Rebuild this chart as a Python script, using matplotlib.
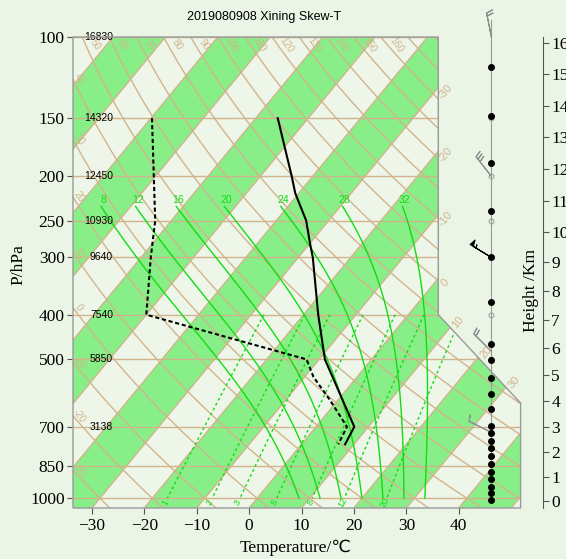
import numpy as np
import matplotlib
matplotlib.use('Agg')
import matplotlib.pyplot as plt
from matplotlib.patches import Polygon

# =========================
# DATA
# =========================
TITLE = '2019080908 Xining Skew-T'

p_ticks = [100, 150, 200, 250, 300, 400, 500, 700, 850, 1000]
t_ticks = [-30, -20, -10, 0, 10, 20, 30, 40]
km_ticks = list(range(0, 17))

# geopotential height of standard levels (m)
hgt_p = [100, 150, 200, 250, 300, 400, 500, 700]
hgt_m = [16830, 14320, 12450, 10930, 9640, 7540, 5850, 3138]

# temperature profile
temp_p = [150, 200, 218, 237, 250, 280, 300, 400, 500, 700, 764]
temp_c = [-55.8, -44.1, -40.7, -36.8, -34.3, -30.0, -27.3, -17.2, -8.9, 7.3, 8.3]

# dew point profile
dewp_p = [150, 200, 250, 300, 400, 500, 546, 613, 700, 764]
dewp_c = [-79.8, -70.4, -63.1, -58.2, -50.0, -12.4, -8.3, -1.5, 5.9, 7.0]

# background line sets
isotherms = list(range(-120, 61, 10))
dry_theta = list(range(-30, 201, 10))
dry_top_lab = list(range(50, 161, 10))
dry_left_lab = list(range(-30, 41, 10))
moist_tw = [8, 12, 16, 20, 24, 28, 32]
mix_r = [1, 2, 3, 5, 8, 12, 20]
iso_edge_lab = [-30, -20, -10, 0]
iso_diag_lab = [10, 20, 30]

# levels shown in the wind / height column
dot_p = [116, 148, 188, 238, 300, 375, 463, 502, 548, 595, 641, 697, 723,
         752, 779, 811, 844, 877, 909, 945, 975, 1009]
ring_p = [150, 200, 250, 400, 500]

# wind barbs (m/s)
wind_p = [100, 200, 300, 480, 720]
wind_u = [1.5, 7.0, 18.0, 6.0, 4.0]
wind_v = [-7.5, -9.0, -11.0, -6.0, -2.0]
wind_col = ['#909090', '#909090', 'black', '#909090', '#909090']

# =========================
# STYLE / GEOMETRY
# =========================
BG = '#EBF5E5'
BAND = '#88EE88'
TAN = '#D2B48C'
LIME = '#11DD11'
SKEW = 72.5
P0 = 1050.0
XMIN, XMAX = -33.6, 51.8
XTOP = 36.1
COL_X = 46.2

serif = ['Liberation Serif', 'DejaVu Serif']
sans = ['Liberation Sans', 'DejaVu Sans']


def skx(t, p):
    return np.asarray(t, dtype=float) + SKEW * np.log10(P0 / np.asarray(p, dtype=float))


def dry_t(theta, p):
    return (theta + 273.15) * (np.asarray(p) / 1000.0) ** 0.286 - 273.15


def es(tk):
    return 6.112 * np.exp(17.67 * (tk - 273.15) / (tk - 29.65))


def dtdp(tk, p):
    rs = 0.622 * es(tk) / (p - es(tk))
    return (287.04 * tk + 2.501e6 * rs) / (p * (1005.7 + 2.501e6 ** 2 * rs * 0.622 / (287.04 * tk * tk)))


def moist_line(tw, p_top):
    ps = np.linspace(1000, p_top, 400)
    tk = tw + 273.15
    ts = [tk]
    for i in range(len(ps) - 1):
        dp = ps[i + 1] - ps[i]
        k1 = dtdp(tk, ps[i])
        k2 = dtdp(tk + k1 * dp / 2, ps[i] + dp / 2)
        tk = tk + k2 * dp
        ts.append(tk)
    return ps, np.array(ts) - 273.15


def std_p(z_km):
    z = z_km * 1000.0
    if z <= 11000:
        return 1013.25 * (1 - 2.25577e-5 * z) ** 5.25588
    return 226.32 * np.exp(-(z - 11000) / 6341.6)


plt.rcParams['font.family'] = serif

fig = plt.figure(figsize=(5.66, 5.59), dpi=100)
fig.patch.set_facecolor(BG)
W, H = 566.0, 559.0
ax = fig.add_axes([73 / W, (H - 508) / H, (520.6 - 73) / W, (508 - 37) / H])
ax.set_facecolor('none')
ax.set_yscale('log')
ax.set_xlim(XMIN, XMAX)
ax.set_ylim(P0, 100)

verts = [(XMIN, 100), (XTOP, 100), (XTOP, 400), (XMAX, 622), (XMAX, P0), (XMIN, P0)]
clip = Polygon(verts, closed=True, transform=ax.transData)
bg = Polygon(verts, closed=True, facecolor='#EDF6E9', edgecolor='none', zorder=0)
ax.add_patch(bg)

# isotherm bands
for t0 in isotherms[:-1]:
    if (t0 // 10) % 2 == 0:
        band = Polygon([(skx(t0, P0), P0), (skx(t0, 100), 100),
                        (skx(t0 + 10, 100), 100), (skx(t0 + 10, P0), P0)],
                       closed=True, facecolor=BAND, edgecolor='none', zorder=1)
        ax.add_patch(band)
        band.set_clip_path(clip)

pp = np.logspace(np.log10(100), np.log10(P0), 200)
arts = []
for t0 in isotherms:
    arts += ax.plot(skx(t0, pp), pp, color=TAN, lw=1, zorder=2)
for th in dry_theta:
    arts += ax.plot(skx(dry_t(th, pp), pp), pp, color=TAN, lw=1, zorder=2)
for p in p_ticks:
    arts += ax.plot([XMIN, XMAX], [p, p], color=TAN, lw=1, zorder=2)

# moist adiabats
for tw in moist_tw:
    ps, ts = moist_line(tw, 233)
    arts += ax.plot(skx(ts, ps), ps, color=LIME, lw=1, zorder=3)
    ax.annotate(str(tw), (skx(ts[-1], ps[-1]), ps[-1]), xytext=(2, 6),
                textcoords='offset pixels', ha='center', va='center',
                color=LIME, fontsize=7.5, family=sans, zorder=6)

# mixing ratio lines
pm = np.logspace(np.log10(400), np.log10(1000), 60)
for r in mix_r:
    e = pm * r / (622.0 + r)
    lg = np.log(e / 6.112)
    td = 243.5 * lg / (17.67 - lg)
    arts += ax.plot(skx(td, pm), pm, color=LIME, lw=1, ls=(0, (2, 2)), zorder=3)
    e1 = 1022 * r / (622.0 + r)
    l1 = np.log(e1 / 6.112)
    ax.text(skx(243.5 * l1 / (17.67 - l1), 1022), 1022, str(r), color=LIME,
            fontsize=6.5, family=sans, rotation=60, ha='center', va='center', zorder=6)

for a in arts:
    a.set_clip_path(clip)

# dry adiabat labels
for th in dry_top_lab:
    ax.annotate(str(th), (skx(dry_t(th, 104), 104), 104), xytext=(9, 0),
                textcoords='offset pixels', ha='center', va='center',
                color=TAN, fontsize=7, family=sans, rotation=-55, zorder=6)
pf = np.logspace(np.log10(100), np.log10(P0), 2000)
for th in dry_left_lab:
    xs = skx(dry_t(th, pf), pf)
    pl = np.interp(XMIN, xs, pf)
    ax.annotate(str(th), (XMIN, pl), xytext=(6, 0), textcoords='offset pixels',
                ha='center', va='center', color=TAN, fontsize=7, family=sans,
                rotation=-55, zorder=6)

# isotherm labels
for t0 in iso_edge_lab:
    pl = P0 / 10 ** ((XTOP - t0) / SKEW)
    ax.annotate(str(t0), (XTOP, pl), xytext=(7, -4), textcoords='offset pixels',
                ha='center', va='center', color=TAN, fontsize=8, family=sans,
                rotation=50, zorder=6)
L1, L2 = np.log10(400), np.log10(622)
for t0 in iso_diag_lab:
    a1 = (XMAX - XTOP) / (L2 - L1)
    L = (t0 + SKEW * np.log10(P0) - XTOP + a1 * L1) / (a1 + SKEW)
    ax.annotate(str(t0), (XTOP + a1 * (L - L1), 10 ** L), xytext=(8, 5),
                textcoords='offset pixels', ha='center', va='center', color=TAN,
                fontsize=8, family=sans, rotation=50, zorder=6)

# heights
for p, h in zip(hgt_p, hgt_m):
    ax.annotate(str(h), (XMIN, p), xytext=(40, 0), textcoords='offset pixels',
                ha='right', va='center', fontsize=7.5, family=sans, zorder=7)

# sounding
ax.plot(skx(temp_c, temp_p), temp_p, color='black', lw=1.5, zorder=8)
ax.plot(skx(dewp_c, dewp_p), dewp_p, color='black', lw=1.5, ls=(0, (2, 1.3)), zorder=8)

# frame
ax.add_patch(Polygon(verts, closed=True, fill=False, edgecolor='#999999', lw=1,
                     zorder=9, clip_on=False))
for s in ax.spines.values():
    s.set_visible(False)

# wind / height column
ax.plot([COL_X, COL_X], [92, 1009], color='#999999', lw=0.8, zorder=4, clip_on=False)
ax.plot([COL_X] * len(ring_p), ring_p, 'o', ms=3.5, mfc='none', mec='#999999',
        mew=0.7, zorder=5, clip_on=False)
ax.plot([COL_X] * len(dot_p), dot_p, 'o', ms=4, color='black', zorder=6, clip_on=False)
for p, u, v, c in zip(wind_p, wind_u, wind_v, wind_col):
    ax.barbs([COL_X], [p], [u], [v], length=6, lw=0.8, color=c, clip_on=False,
             barb_increments=dict(half=2, full=4, flag=20),
             sizes=dict(height=0.25, width=0.15), zorder=5)

# axes ticks
ax.set_yticks(p_ticks)
ax.set_yticklabels([str(p) for p in p_ticks])
ax.yaxis.set_minor_locator(matplotlib.ticker.NullLocator())
ax.set_xticks(t_ticks)
ax.set_xticklabels(['\u2212' + str(-t) if t < 0 else str(t) for t in t_ticks])
ax.tick_params(axis='both', labelsize=12.5, length=4, width=0.8, color='#555555')
ax.tick_params(axis='x', pad=3)
ax.tick_params(axis='y', pad=2)

# height axis
ax2 = ax.twinx()
ax2.set_yscale('log')
ax2.set_ylim(P0, 100)
ax2.yaxis.set_minor_locator(matplotlib.ticker.NullLocator())
ax2.set_yticks([std_p(z) for z in km_ticks])
ax2.set_yticklabels([str(z) for z in km_ticks])
for k, s in ax2.spines.items():
    s.set_visible(k == 'right')
ax2.spines['right'].set_position(('axes', (543 - 73) / 447.6))
ax2.spines['right'].set_color('#555555')
ax2.tick_params(axis='y', labelsize=12.5, length=4, width=0.8, color='#555555', pad=2)

fig.text(264 / W, 1 - 17 / H, TITLE, ha='center', va='center', fontsize=9, family=sans)
fig.text(18 / W, 1 - 265 / H, 'P/hPa', rotation=90, ha='center', va='center', fontsize=12.5)
fig.text(296 / W, 1 - 548 / H, 'Temperature/\u2103', ha='center', va='center',
         fontsize=12.5, family=['Liberation Serif', 'DejaVu Sans'])
fig.text(531 / W, 1 - 290 / H, 'Height /Km', rotation=90, ha='center', va='center',
         fontsize=12.5)

plt.savefig('out.png', dpi=100, facecolor=BG)
